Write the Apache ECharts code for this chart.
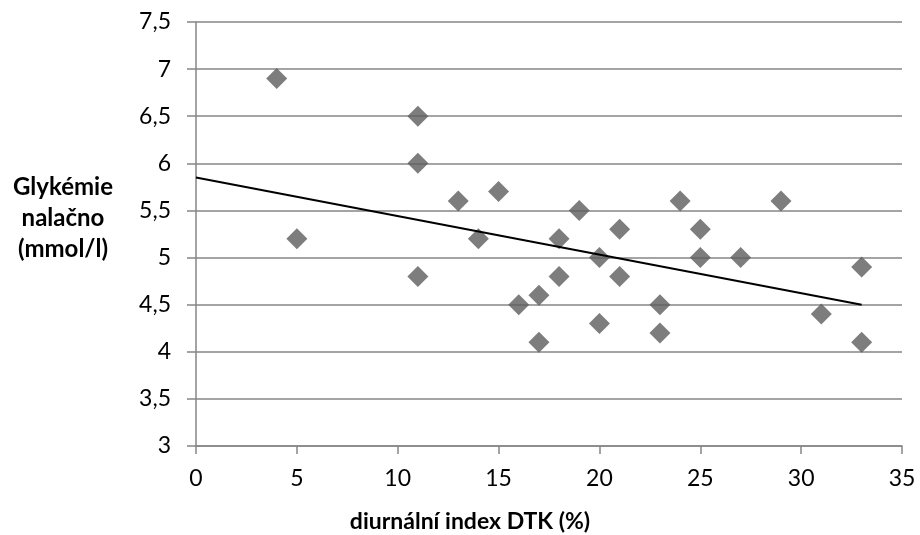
<!DOCTYPE html>
<html>
<head>
<meta charset="utf-8">
<script src="https://cdn.jsdelivr.net/npm/echarts@6/dist/echarts.min.js"></script>
<style>
  html, body { margin: 0; padding: 0; background: #fff; }
  #chart { width: 920px; height: 535px; }
</style>
</head>
<body>
<div id="chart"></div>
<script>
// diurnální index DTK (%)
const dtk = [4, 5, 11, 11, 11, 13, 14, 15, 16, 17, 17, 18, 18, 19, 20, 20, 21, 21, 23, 23, 24, 25, 25, 27, 29, 31, 33, 33]
// glykémie nalačno (mmol/l)
const glyk = [6.9, 5.2, 6.5, 6.0, 4.8, 5.6, 5.2, 5.7, 4.5, 4.6, 4.1, 5.2, 4.8, 5.5, 5.0, 4.3, 5.3, 4.8, 4.5, 4.2, 5.6, 5.3, 5.0, 5.0, 5.6, 4.4, 4.9, 4.1]
// lineární trend (koncové body)
const trendX = [0, 33]
const trendY = [5.85, 4.5]

const font = 'Lato, "Open Sans", sans-serif'
const gray = '#868686'

const chart = echarts.init(document.getElementById('chart'))
chart.setOption({
  animation: false,
  grid: { left: 196, right: 18, top: 22, bottom: 89 },
  xAxis: {
    type: 'value',
    min: 0,
    max: 35,
    interval: 5,
    splitLine: { show: false },
    axisLine: { lineStyle: { color: gray, width: 1.5 } },
    axisTick: { show: true, length: 8, lineStyle: { color: gray, width: 1.5 } },
    axisLabel: { color: '#000', fontFamily: font, fontSize: 23, margin: 21 },
  },
  yAxis: {
    type: 'value',
    min: 3,
    max: 7.5,
    interval: 0.5,
    splitLine: { lineStyle: { color: gray, width: 1.5 } },
    axisLine: { show: true, lineStyle: { color: gray, width: 1.5 } },
    axisTick: { show: true, length: 9, lineStyle: { color: gray, width: 1.5 } },
    axisLabel: {
      color: '#000',
      fontFamily: font,
      fontSize: 23,
      margin: 25,
      formatter: (v) => String(v).replace('.', ','),
    },
  },
  graphic: [
    {
      type: 'text',
      x: 63,
      y: 172,
      style: {
        text: 'Glykémie\nnalačno\n(mmol/l)',
        fontFamily: font,
        fontSize: 24,
        fontWeight: 'bold',
        fill: '#000',
        align: 'center',
        lineHeight: 31,
      },
    },
    {
      type: 'text',
      x: 470,
      y: 522,
      style: {
        text: 'diurnální index DTK (%)',
        fontFamily: font,
        fontSize: 23,
        fontWeight: 'bold',
        fill: '#000',
        align: 'center',
        verticalAlign: 'middle',
      },
    },
  ],
  series: [
    {
      type: 'scatter',
      symbol: 'diamond',
      symbolSize: 21,
      itemStyle: { color: '#5c5c5c' },
      data: dtk.map((x, i) => [x, glyk[i]]),
      z: 3,
    },
    {
      type: 'line',
      showSymbol: false,
      symbol: 'none',
      lineStyle: { color: '#000', width: 2 },
      data: trendX.map((x, i) => [x, trendY[i]]),
      z: 4,
    },
  ],
})
</script>
</body>
</html>
